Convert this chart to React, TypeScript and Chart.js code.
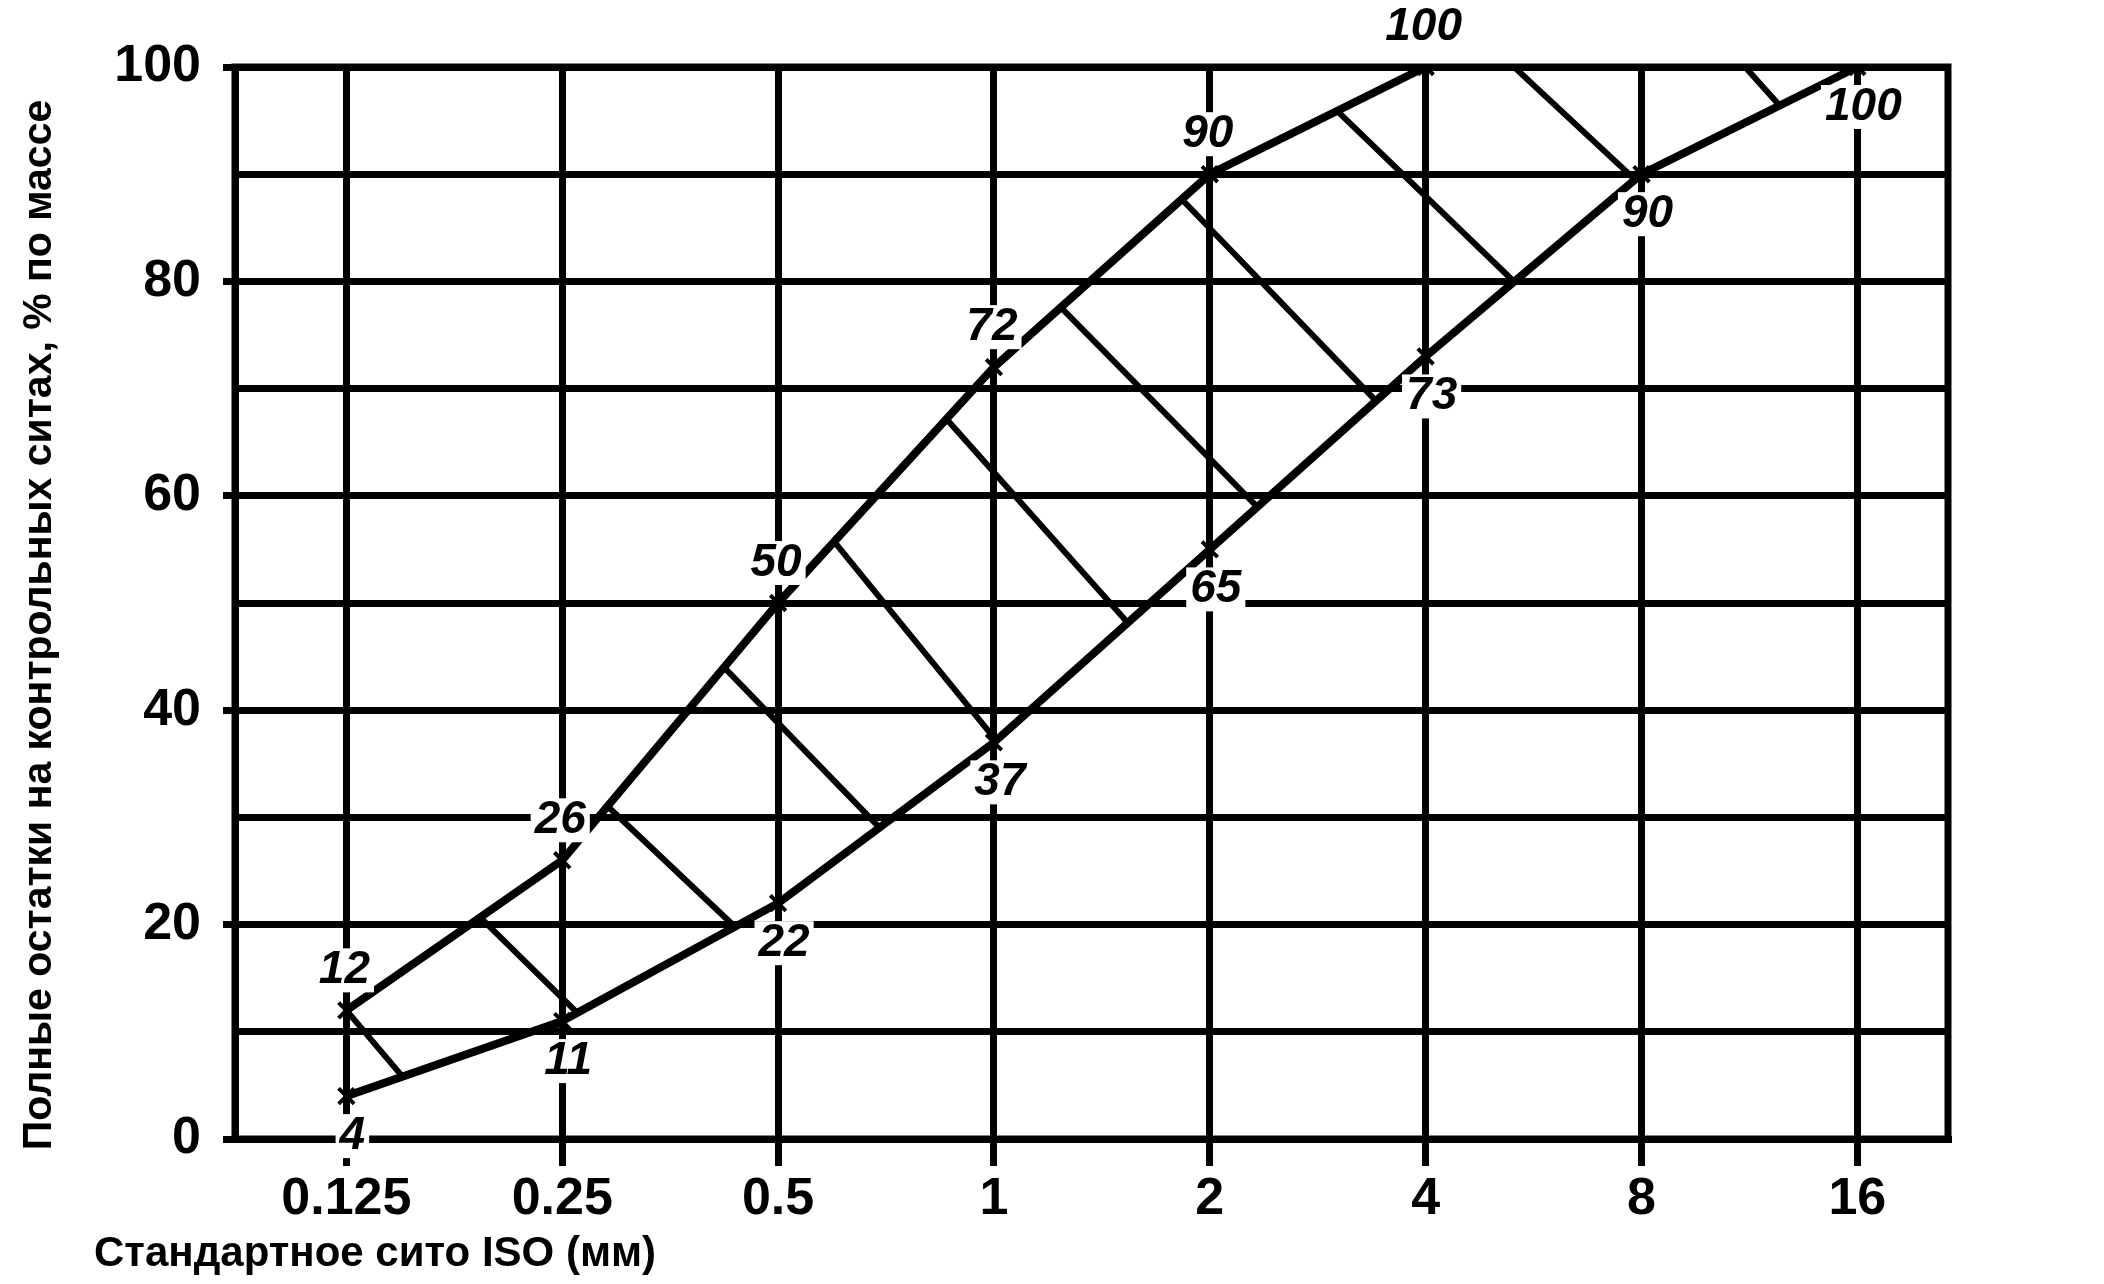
import React, { useEffect, useRef } from 'react';
import { Chart, registerables } from 'chart.js';

Chart.register(...registerables);

// ---- data ----
const sieveSizes = ['0.125', '0.25', '0.5', '1', '2', '4', '8', '16'];
const sieveIndex = [0, 1, 2, 3, 4, 5, 6, 7];
const upperLimit = [12, 26, 50, 72, 90, 100, 100, 100];
const lowerLimit = [4, 11, 22, 37, 55, 73, 90, 100];
const upperLabels = ['12', '26', '50', '72', '90', '100', '', ''];
const lowerLabels = ['4', '11', '22', '37', '65', '73', '90', '100'];
const upperMarkerShown = [true, true, true, true, true, true, false, false];
// hatch strokes: where each starts on the upper curve and ends on the lower curve (sieve-index units)
const hatchUpperAt = [0, 0.62, 1.21, 1.75, 2.26, 2.78, 3.31, 3.87, 4.59, 5.41, 6.48];
const hatchLowerAt = [0.26, 1.07, 1.8, 2.47, 3.01, 3.62, 4.22, 4.77, 5.41, 5.97, 6.64];
const yTickValues = [0, 10, 20, 30, 40, 50, 60, 70, 80, 90, 100];
const yLabelledTicks = [0, 20, 40, 60, 80, 100];
const xTitle = 'Стандартное сито ISO (мм)';
const yTitle = 'Полные остатки на контрольных ситах, % по массе';

const FONT = '"Liberation Sans", Arial, sans-serif';
const INK = '#000000';

function onPolyline(values: number[], t: number): number {
  const i = Math.min(Math.max(Math.floor(t), 0), values.length - 2);
  const f = t - i;
  return values[i] + (values[i + 1] - values[i]) * f;
}

export default function App() {
  const ref = useRef<HTMLCanvasElement | null>(null);

  useEffect(() => {
    const canvas = ref.current;
    if (!canvas) return;

    const upperData = sieveIndex.map((x, i) => ({ x, y: upperLimit[i] }));
    const lowerData = sieveIndex.map((x, i) => ({ x, y: lowerLimit[i] }));
    const hatchData: { x: number; y: number | null }[] = [];
    hatchUpperAt.forEach((a, i) => {
      const b = hatchLowerAt[i];
      hatchData.push({ x: a, y: onPolyline(upperLimit, a) });
      hatchData.push({ x: b, y: onPolyline(lowerLimit, b) });
      hatchData.push({ x: b, y: null });
    });

    const frame = {
      id: 'frame',
      beforeDatasetsDraw(chart: any) {
        const { ctx, chartArea } = chart;
        ctx.save();
        ctx.strokeStyle = INK;
        ctx.lineWidth = 7;
        ctx.strokeRect(chartArea.left, chartArea.top, chartArea.right - chartArea.left, chartArea.bottom - chartArea.top);
        ctx.restore();
      },
    };

    const pointLabels = {
      id: 'pointLabels',
      afterDatasetsDraw(chart: any) {
        const { ctx } = chart;
        const xs = chart.scales.x;
        const ys = chart.scales.y;
        ctx.save();
        ctx.font = `italic bold 46px ${FONT}`;
        ctx.textAlign = 'center';
        ctx.textBaseline = 'middle';
        const draw = (text: string, px: number, py: number) => {
          if (!text) return;
          const w = ctx.measureText(text).width;
          ctx.fillStyle = '#ffffff';
          ctx.fillRect(px - w / 2 - 4, py - 22, w + 8, 44);
          ctx.fillStyle = INK;
          ctx.fillText(text, px, py);
        };
        sieveIndex.forEach((x, i) => {
          draw(upperLabels[i], xs.getPixelForValue(x) - 2, ys.getPixelForValue(upperLimit[i]) - 40);
          draw(lowerLabels[i], xs.getPixelForValue(x) + 6, ys.getPixelForValue(lowerLimit[i]) + 40);
        });
        ctx.restore();
      },
    };

    const titles = {
      id: 'titles',
      afterDraw(chart: any) {
        const { ctx } = chart;
        ctx.save();
        ctx.fillStyle = INK;
        ctx.font = `bold 42px ${FONT}`;
        ctx.textBaseline = 'middle';
        ctx.textAlign = 'left';
        ctx.fillText(xTitle, 94, 1254);
        ctx.font = `bold 41px ${FONT}`;
        ctx.translate(40, 625);
        ctx.rotate(-Math.PI / 2);
        ctx.textAlign = 'center';
        ctx.fillText(yTitle, 0, 0);
        ctx.restore();
      },
    };

    const chart = new Chart(canvas, {
      type: 'line',
      data: {
        datasets: [
          {
            label: 'hatch',
            data: hatchData as any,
            borderColor: INK,
            borderWidth: 6,
            pointRadius: 0,
            spanGaps: false,
            tension: 0,
            order: 3,
          },
          {
            label: 'upper',
            data: upperData,
            borderColor: INK,
            borderWidth: 8,
            pointStyle: 'crossRot',
            pointRadius: upperMarkerShown.map((s) => (s ? 11 : 0)),
            pointBorderWidth: 4,
            pointBorderColor: INK,
            tension: 0,
            order: 1,
          },
          {
            label: 'lower',
            data: lowerData,
            borderColor: INK,
            borderWidth: 8,
            pointStyle: 'crossRot',
            pointRadius: 11,
            pointBorderWidth: 4,
            pointBorderColor: INK,
            tension: 0,
            order: 2,
          },
        ],
      },
      options: {
        responsive: false,
        maintainAspectRatio: false,
        devicePixelRatio: 1,
        animation: false,
        events: [],
        layout: { padding: { top: 67, right: 156, left: 0, bottom: 0 } },
        plugins: {
          legend: { display: false },
          tooltip: { enabled: false },
          title: { display: false },
        },
        scales: {
          x: {
            type: 'linear',
            min: -0.516,
            max: 7.42,
            afterBuildTicks: (s: any) => {
              s.ticks = sieveIndex.map((v) => ({ value: v }));
            },
            afterFit: (s: any) => {
              s.height = 145;
            },
            ticks: {
              autoSkip: false,
              maxRotation: 0,
              padding: 2,
              color: INK,
              font: { family: FONT, weight: 'bold', size: 52 },
              callback: (v: any) => {
                const k = sieveIndex.indexOf(Number(v));
                return k >= 0 ? sieveSizes[k] : '';
              },
            },
            grid: {
              color: INK,
              lineWidth: 7,
              drawTicks: true,
              tickLength: 27,
              tickWidth: 7,
              tickColor: INK,
            },
            border: { display: true, color: INK, width: 7 },
          },
          y: {
            type: 'linear',
            min: 0,
            max: 100,
            afterBuildTicks: (s: any) => {
              s.ticks = yTickValues.map((v) => ({ value: v }));
            },
            afterFit: (s: any) => {
              s.width = 235;
            },
            ticks: {
              autoSkip: false,
              padding: 22,
              color: INK,
              font: { family: FONT, weight: 'bold', size: 52 },
              callback: (v: any) => (yLabelledTicks.includes(Number(v)) ? String(v) : ''),
            },
            grid: {
              color: INK,
              lineWidth: 7,
              drawTicks: true,
              tickLength: 12,
              tickWidth: 7,
              tickColor: (c: any) =>
                c.tick && yLabelledTicks.includes(c.tick.value) ? INK : 'rgba(0,0,0,0)',
            },
            border: { display: true, color: INK, width: 7 },
          },
        },
      },
      plugins: [frame, pointLabels, titles],
    } as any);

    return () => chart.destroy();
  }, []);

  return (
    <div style={{ position: 'fixed', left: 0, top: 0, width: 2104, height: 1284, background: '#ffffff' }}>
      <canvas ref={ref} width={2104} height={1284} style={{ display: 'block', width: 2104, height: 1284 }} />
    </div>
  );
}
